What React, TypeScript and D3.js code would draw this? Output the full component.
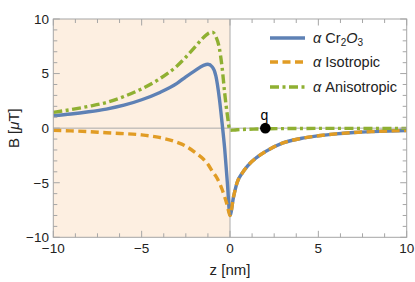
import React from "react";
import * as d3 from "d3";

// sample points (z in nm, B in µT)
const zNeg = [-10, -9, -8, -7, -6, -5, -4, -3, -2.5, -2, -1.5, -1.25, -1, -0.8, -0.6, -0.45, -0.3, -0.15, 0];
const zPos = [0, 0.2, 0.4, 0.7, 1, 1.5, 2, 3, 4, 5, 6, 7, 8, 9, 10];

const cr2o3Neg = [1.15, 1.3, 1.5, 1.75, 2.1, 2.6, 3.25, 4.1, 4.7, 5.25, 5.75, 5.85, 5.6, 4.8, 2.7, 0.5, -1.9, -5.0, -8];
const isoNeg = [-0.2, -0.25, -0.32, -0.42, -0.5, -0.62, -0.85, -1.3, -1.65, -2.2, -2.85, -3.3, -3.95, -4.4, -5.0, -5.6, -6.3, -7.1, -8];
const isoPos = [-8, -6.3, -5.0, -4.1, -3.45, -2.7, -2.15, -1.35, -0.95, -0.7, -0.52, -0.4, -0.32, -0.26, -0.21];
const anisoNeg = [1.45, 1.7, 2.0, 2.35, 2.9, 3.6, 4.5, 5.7, 6.5, 7.4, 8.3, 8.65, 8.8, 8.4, 7.3, 5.6, 3.2, 1.2, -0.2];
const anisoPos = [-0.2, -0.18, -0.15, -0.12, -0.1, -0.08, -0.06, -0.04, -0.03, -0.02, -0.02, -0.02, -0.02, -0.02, -0.02];

const xMajor = [-10, -5, 0, 5, 10];
const yMajor = [-10, -5, 0, 5, 10];
const xMinor = d3.range(-10, 10.01, 1.25);
const yMinor = d3.range(-10, 10.01, 1);

const series = [
  { label: "Cr", color: "#5e81b5", dash: "", neg: cr2o3Neg, pos: isoPos },
  { label: "Isotropic", color: "#e19c24", dash: "8,4.5", neg: isoNeg, pos: isoPos },
  { label: "Anisotropic", color: "#8fb032", dash: "9,3.5,3,3.5", neg: anisoNeg, pos: anisoPos },
];

const W = 415;
const H = 282;
const font = "'Liberation Sans', Arial, sans-serif";

export default function App() {
  const x = d3.scaleLinear().domain([-10, 10]).range([53.3, 406.7]);
  const y = d3.scaleLinear().domain([-10, 10]).range([237.3, 19]);
  const line = d3
    .line<[number, number]>()
    .x((d) => x(d[0]))
    .y((d) => y(d[1]))
    .curve(d3.curveMonotoneX);

  const frame = "#a6a6a6";
  const [x0, x1] = x.range();
  const [y0, y1] = y.range();

  return (
    <svg width={W} height={H} style={{ position: "fixed", left: 0, top: 0, background: "#fff" }} fontFamily={font}>
      <defs>
        <clipPath id="plot">
          <rect x={x0} y={y1} width={x1 - x0} height={y0 - y1} />
        </clipPath>
      </defs>
      {/* shaded region z < 0 */}
      <rect x={x0} y={y1} width={x(0) - x0} height={y0 - y1} fill="#fdefe1" />

      {/* zero lines */}
      <line x1={x0} x2={x1} y1={y(0)} y2={y(0)} stroke="#aaa" strokeWidth={1} />
      <line x1={x(0)} x2={x(0)} y1={y0} y2={y1} stroke="#aaa" strokeWidth={1} />

      {/* curves */}
      <g clipPath="url(#plot)">
        {series.map((s, i) => {
          const pts: [number, number][] = [
            ...zNeg.map((z, j) => [z, s.neg[j]] as [number, number]),
            ...zPos.slice(1).map((z, j) => [z, s.pos[j + 1]] as [number, number]),
          ];
          return (
            <path
              key={i}
              d={line(pts) || ""}
              fill="none"
              stroke={s.color}
              strokeWidth={3.4}
              strokeDasharray={s.dash}
              strokeLinejoin="round"
            />
          );
        })}
      </g>

      {/* frame and ticks */}
      <rect x={x0} y={y1} width={x1 - x0} height={y0 - y1} fill="none" stroke={frame} strokeWidth={1} />
      {xMinor.map((t, i) => {
        const major = xMajor.includes(t);
        const len = major ? 6.5 : 4;
        return (
          <g key={"xt" + i} stroke={frame}>
            <line x1={x(t)} x2={x(t)} y1={y0} y2={y0 - len} />
            <line x1={x(t)} x2={x(t)} y1={y1} y2={y1 + len} />
          </g>
        );
      })}
      {yMinor.map((t, i) => {
        const major = yMajor.includes(t);
        const len = major ? 6.5 : 4;
        return (
          <g key={"yt" + i} stroke={frame}>
            <line x1={x0} x2={x0 + len} y1={y(t)} y2={y(t)} />
            <line x1={x1} x2={x1 - len} y1={y(t)} y2={y(t)} />
          </g>
        );
      })}

      {/* tick labels */}
      {xMajor.map((t) => (
        <text key={"xl" + t} x={x(t)} y={253} fontSize={13.5} textAnchor="middle" fill="#222">
          {t < 0 ? "\u2212" + Math.abs(t) : t}
        </text>
      ))}
      {yMajor.map((t) => (
        <text key={"yl" + t} x={49} y={y(t) + 4.8} fontSize={13.5} textAnchor="end" fill="#222">
          {t < 0 ? "\u2212" + Math.abs(t) : t}
        </text>
      ))}

      {/* axis titles */}
      <text x={x(0)} y={275} fontSize={15} textAnchor="middle" fill="#222">
        z [nm]
      </text>
      <text transform={`translate(18.5,${y(0)}) rotate(-90)`} fontSize={15} textAnchor="middle" fill="#222">
        B [<tspan fontStyle="italic">μ</tspan>T]
      </text>

      {/* point q */}
      <circle cx={x(2)} cy={y(0)} r={5.3} fill="#000" />
      <text x={x(2) - 1} y={120} fontSize={14} textAnchor="middle" fill="#000">
        q
      </text>

      {/* legend */}
      {series.map((s, i) => {
        const ly = [38, 62, 87][i];
        return (
          <g key={"lg" + i}>
            <line x1={270} x2={305} y1={ly} y2={ly} stroke={s.color} strokeWidth={3.4} strokeDasharray={s.dash} />
            <text x={313} y={ly + 5} fontSize={14.5} fill="#222">
              <tspan fontStyle="italic">α</tspan>
              {i === 0 ? (
                <>
                  {" Cr"}
                  <tspan fontSize={10} dy={3}>2</tspan>
                  <tspan fontStyle="italic" dy={-3}>O</tspan>
                  <tspan fontSize={10} dy={3}>3</tspan>
                </>
              ) : (
                "  " + s.label
              )}
            </text>
          </g>
        );
      })}
    </svg>
  );
}
